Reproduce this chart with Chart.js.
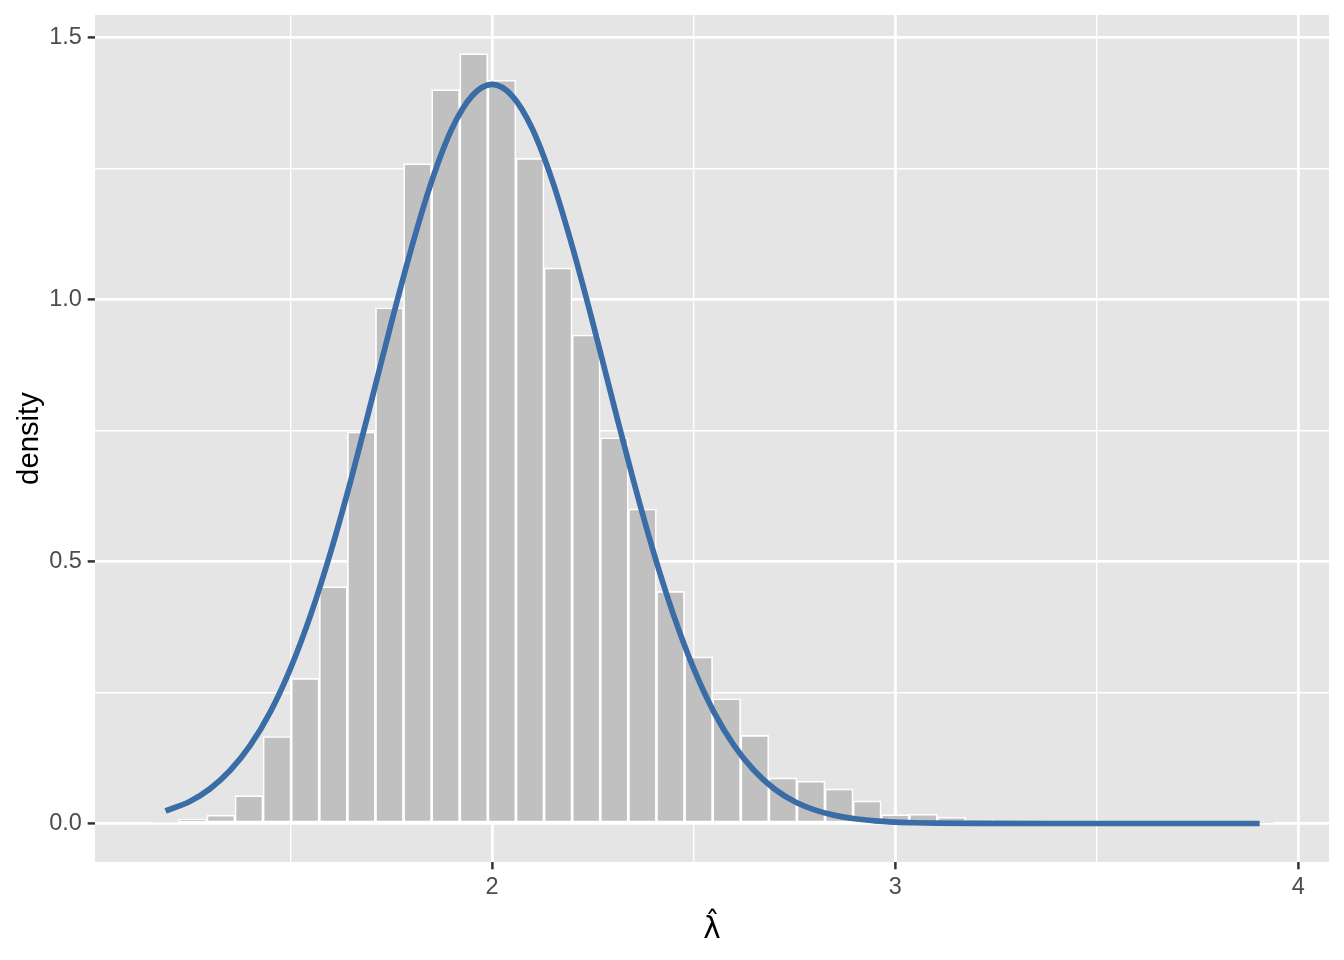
<!DOCTYPE html>
<html>
<head>
<meta charset="utf-8">
<script src="https://cdn.jsdelivr.net/npm/chart.js@4.4.1/dist/chart.umd.min.js"></script>
<style>
  html, body { margin: 0; padding: 0; background: #ffffff; }
  #wrap { width: 1344px; height: 960px; }
</style>
</head>
<body>
<div id="wrap"><canvas id="chart"></canvas></div>
<script>
'use strict';

// histogram: bin centres and densities
const binCentres = [1.1879, 1.2576, 1.3273, 1.3970, 1.4667, 1.5364, 1.6061, 1.6758, 1.7455, 1.8152,
                    1.8849, 1.9546, 2.0243, 2.0940, 2.1637, 2.2334, 2.3031, 2.3728, 2.4425, 2.5122,
                    2.5819, 2.6516, 2.7213, 2.7910, 2.8607, 2.9304, 3.0001, 3.0698, 3.1395, 3.2092,
                    3.2789, 3.3486, 3.4183, 3.4880, 3.5577, 3.6274, 3.6971, 3.7668, 3.8365, 3.9062];
const binDensity = [0.003, 0.008, 0.016, 0.053, 0.166, 0.277, 0.452, 0.747, 0.984, 1.259,
                    1.400, 1.469, 1.418, 1.269, 1.060, 0.932, 0.736, 0.600, 0.443, 0.318,
                    0.238, 0.168, 0.087, 0.081, 0.066, 0.043, 0.017, 0.018, 0.012, 0.007,
                    0.004, 0.002, 0.001, 0.001, 0, 0, 0, 0, 0, 0.002];

// density curve
const curveX = [1.19, 1.25, 1.30, 1.35, 1.40, 1.45, 1.50, 1.55, 1.60, 1.65, 1.70, 1.75, 1.80, 1.85, 1.90, 1.95,
                2.00, 2.05, 2.10, 2.15, 2.20, 2.25, 2.30, 2.35, 2.40, 2.45, 2.50, 2.55, 2.60, 2.65, 2.70,
                2.75, 2.80, 2.85, 2.90, 2.95, 3.00, 3.05, 3.10, 3.20, 3.40, 3.60, 3.80, 3.904];
const curveY = [0.024, 0.042, 0.066, 0.101, 0.149, 0.213, 0.296, 0.398, 0.519, 0.656, 0.804, 0.955, 1.098, 1.225, 1.325, 1.388,
                1.410, 1.388, 1.325, 1.225, 1.098, 0.955, 0.804, 0.656, 0.519, 0.398, 0.296, 0.213, 0.149, 0.101, 0.066,
                0.042, 0.026, 0.0155, 0.009, 0.005, 0.0027, 0.0014, 0.0007, 0.0001, 0, 0, 0, 0];

// axis ticks
const xTicks = [1.5, 2, 2.5, 3, 3.5, 4];
const xMajor = [2, 3, 4];
const yTicks = [0, 0.25, 0.5, 0.75, 1, 1.25, 1.5];
const yMajor = [0, 0.5, 1, 1.5];

const isMajor = (list, v) => list.some(m => Math.abs(m - v) < 1e-9);
const tickMajor = (list, c) => !!(c && c.tick && isMajor(list, c.tick.value));

// grey panel behind the plot
const panelBg = {
  id: 'panelBg',
  beforeDraw(chart) {
    const a = chart.chartArea;
    const c = chart.ctx;
    c.save();
    c.fillStyle = '#E5E5E5';
    c.fillRect(a.left, a.top, a.right - a.left, a.bottom - a.top);
    c.restore();
  }
};

const tickFont = { family: 'Liberation Sans', size: 23.5 };
const titleFont = { family: 'Liberation Sans', size: 29.3 };

const ctx = document.getElementById('chart').getContext('2d');
const chart = new Chart(ctx, {
  type: 'bar',
  data: {
    datasets: [{
      type: 'line',
      data: curveX.map((x, i) => ({ x: x, y: curveY[i] })),
      borderColor: '#3A6CA6',
      borderWidth: 5.7,
      pointRadius: 0,
      cubicInterpolationMode: 'monotone',
      fill: false,
      order: 0
    }, {
      type: 'bar',
      data: binCentres.map((x, i) => ({ x: x, y: binDensity[i] })),
      backgroundColor: '#C0C0C0',
      borderColor: '#FFFFFF',
      borderWidth: 1.7,
      borderSkipped: false,
      barPercentage: 1,
      categoryPercentage: 1,
      order: 1
    }]
  },
  options: {
    responsive: true,
    maintainAspectRatio: false,
    animation: false,
    layout: { padding: { left: 0, top: 15, right: 15, bottom: 0 } },
    plugins: { legend: { display: false }, tooltip: { enabled: false } },
    scales: {
      x: {
        type: 'linear',
        min: 1.015,
        max: 4.076,
        offset: false,
        afterBuildTicks: s => { s.ticks = xTicks.map(v => ({ value: v })); },
        afterFit: s => { s.height = 98; s.paddingLeft = 0; s.paddingRight = 0; },
        border: { display: false },
        grid: {
          offset: false,
          color: '#FFFFFF',
          lineWidth: c => tickMajor(xMajor, c) ? 2.8 : 1.4,
          tickColor: c => tickMajor(xMajor, c) ? '#333333' : 'rgba(0,0,0,0)',
          tickWidth: 2.5,
          tickLength: 7.3
        },
        ticks: {
          color: '#4D4D4D',
          font: tickFont,
          padding: 4,
          maxRotation: 0,
          autoSkip: false,
          callback: v => isMajor(xMajor, v) ? String(v) : ''
        },
        title: {
          display: true,
          text: 'λ̂',
          color: '#000000',
          font: { family: 'DejaVu Sans', size: 29.3 },
          padding: { top: 0, bottom: 12 }
        }
      },
      y: {
        min: -0.0735,
        max: 1.5425,
        afterBuildTicks: s => { s.ticks = yTicks.map(v => ({ value: v })); },
        afterFit: s => { s.width = 95; s.paddingTop = 0; s.paddingBottom = 0; },
        border: { display: false },
        grid: {
          offset: false,
          color: '#FFFFFF',
          lineWidth: c => tickMajor(yMajor, c) ? 2.8 : 1.4,
          tickColor: c => tickMajor(yMajor, c) ? '#333333' : 'rgba(0,0,0,0)',
          tickWidth: 2.5,
          tickLength: 7.3
        },
        ticks: {
          color: '#4D4D4D',
          font: tickFont,
          padding: 5.9,
          autoSkip: false,
          callback: v => isMajor(yMajor, v) ? v.toFixed(1) : ''
        },
        title: {
          display: true,
          text: 'density',
          color: '#000000',
          font: titleFont,
          padding: { top: 12, bottom: 0 }
        }
      }
    }
  },
  plugins: [panelBg]
});
</script>
</body>
</html>
